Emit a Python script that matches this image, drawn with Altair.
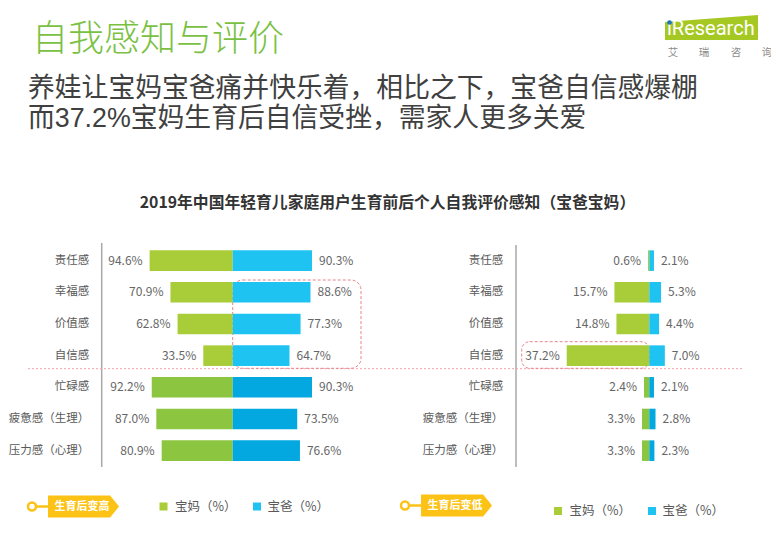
import altair as alt
import pandas as pd

# ---------------- data ----------------
categories = ["责任感", "幸福感", "价值感", "自信感", "忙碌感", "疲惫感（生理）", "压力感（心理）"]
kinds = ["正面", "正面", "正面", "正面", "负面", "负面", "负面"]
up_mom = [94.6, 70.9, 62.8, 33.5, 92.2, 87.0, 80.9]     # 生育后变高 宝妈
up_dad = [90.3, 88.6, 77.3, 64.7, 90.3, 73.5, 76.6]     # 生育后变高 宝爸
down_mom = [0.6, 15.7, 14.8, 37.2, 2.4, 3.3, 3.3]       # 生育后变低 宝妈
down_dad = [2.1, 5.3, 4.4, 7.0, 2.1, 2.8, 2.3]          # 生育后变低 宝爸

series = ["宝妈", "宝爸"]
title_text = "自我感知与评价"
subtitle_lines = ["养娃让宝妈宝爸痛并快乐着，相比之下，宝爸自信感爆棚",
                  "而37.2%宝妈生育后自信受挫，需家人更多关爱"]
chart_title = "2019年中国年轻育儿家庭用户生育前后个人自我评价感知（宝爸宝妈）"
panel_tags = ["生育后变高", "生育后变低"]
legend_labels = ["宝妈（%）", "宝爸（%）"]
logo_text = "iResearch"
logo_sub = ["艾", "瑞", "咨", "询"]

FONT = "Noto Sans CJK SC"
color_keys = ["宝妈正面", "宝妈负面", "宝爸正面", "宝爸负面"]
color_vals = ["#A8CD38", "#8CC540", "#1EC3F2", "#02A8DF"]
YELLOW = "#FDC216"


def panel_frame(mom, dad):
    rows = []
    for c, k, m, d in zip(categories, kinds, mom, dad):
        rows.append(dict(category=c, parent=series[0], value=m, signed=-m,
                         key=series[0] + k, label=f"{m:.1f}%"))
        rows.append(dict(category=c, parent=series[1], value=d, signed=d,
                         key=series[1] + k, label=f"{d:.1f}%"))
    return pd.DataFrame(rows)


yscale = alt.Scale(domain=categories, range=[236.8, 458.5],
                   paddingInner=0.35, paddingOuter=0.175)
cscale = alt.Scale(domain=color_keys, range=color_vals)


def panel(df, xdom, xrange, label_x):
    xs = alt.Scale(domain=xdom, range=xrange, nice=False, zero=False)
    base = alt.Chart(df).encode(y=alt.Y("category:N", scale=yscale, axis=None))
    bars = base.mark_bar().encode(
        x=alt.X("signed:Q", scale=xs, axis=None, stack=None),
        x2=alt.datum(0),
        color=alt.Color("key:N", scale=cscale, legend=None),
    )
    mom_txt = base.transform_filter(alt.datum.parent == series[0]).mark_text(
        align="right", dx=-7, baseline="middle", fontSize=12, color="#666666", font=FONT
    ).encode(x=alt.X("signed:Q", scale=xs, axis=None), text="label:N")
    dad_txt = base.transform_filter(alt.datum.parent == series[1]).mark_text(
        align="left", dx=7, baseline="middle", fontSize=12, color="#666666", font=FONT
    ).encode(x=alt.X("signed:Q", scale=xs, axis=None), text="label:N")
    cat_txt = base.transform_filter(alt.datum.parent == series[0]).mark_text(
        align="right", baseline="middle", fontSize=11.5, color="#595959", font=FONT
    ).encode(x=alt.value(label_x), text="category:N")
    return [bars, mom_txt, dad_txt, cat_txt]


one = pd.DataFrame({"k": [0]})


def txt(text, x, y, font=FONT, **kw):
    return alt.Chart(one).mark_text(text=text, font=font, baseline="middle", **kw).encode(
        x=alt.value(x), y=alt.value(y))


def rule(x, x2, y, y2, **kw):
    return alt.Chart(one).mark_rule(**kw).encode(
        x=alt.value(x), x2=alt.value(x2), y=alt.value(y), y2=alt.value(y2))


def box(x, x2, y, y2, **kw):
    return alt.Chart(one).mark_rect(**kw).encode(
        x=alt.value(x), x2=alt.value(x2), y=alt.value(y), y2=alt.value(y2))


def sym(x, y, **kw):
    return alt.Chart(one).mark_point(**kw).encode(x=alt.value(x), y=alt.value(y))


left = panel(panel_frame(up_mom, up_dad), [-100, 100], [136.9, 312.5], 81.3)
right = panel(panel_frame(down_mom, down_dad), [-40, 40], [552.5, 730.1], 495.3)

SUB_FONT = "Liberation Sans, Noto Sans CJK SC"
deco = [
    # headings
    txt(title_text, 24, 32, fontSize=36, color="#7AC143", align="left", fontWeight=300),
    txt(subtitle_lines[0], 20, 80.5, font=SUB_FONT, fontSize=26.8, color="#404040", align="left"),
    txt(subtitle_lines[1], 20, 110.5, font=SUB_FONT, fontSize=26.8, color="#404040", align="left"),
    txt(chart_title, 379.5, 195, fontSize=15.8, color="#333333", align="center", fontWeight="bold"),
    # logo
    sym(703.5, 19.5, shape="M -1 -0.118 L 1 -0.269 L 1 0.269 L -1 0.269 Z",
        size=93 ** 2, filled=True, color="#A6C823", opacity=1, strokeWidth=0),
    txt(logo_text, 659, 21, fontSize=20, color="white", align="left", font="Roboto"),
    sym(661.5, 14.5, shape="circle", size=22, filled=True, color="#1B75BB", opacity=1),
    # axis lines & separators
    rule(93.7, 93.7, 235, 459, color="#A8A8A8", strokeWidth=1.5),
    rule(508, 508, 237, 459, color="#A8A8A8", strokeWidth=1.5),
    rule(20, 734, 360.7, 360.7, color="#F2A2AA", strokeWidth=1, strokeDash=[2, 2]),
    box(224.7, 353, 272, 360.3, fillOpacity=0, stroke="#E8848C", strokeWidth=1,
        strokeDash=[3, 2], cornerRadius=10),
    box(513.7, 641.3, 333.7, 360.3, fillOpacity=0, stroke="#E8848C", strokeWidth=1,
        strokeDash=[3, 2], cornerRadius=8),
]
for ch, lx in zip(logo_sub, [665, 696, 728, 759]):
    deco.append(txt(ch, lx, 45, fontSize=10.5, color="#8C8C8C", align="center"))

# legends / tags
for cx, cy, tag, sq1, sq2, ly in [(24, 498.5, panel_tags[0], 155.5, 249, 498.5),
                                  (397, 497.5, panel_tags[1], 550, 644, 503)]:
    deco += [
        rule(cx + 4, cx + 16, cy, cy, color=YELLOW, strokeWidth=2.5),
        sym(cx, cy, shape="circle", size=64, filled=True, fill="white", stroke=YELLOW,
            strokeWidth=2.5, opacity=1),
        sym(cx + 51.5, cy, shape="M -1 -0.31 L 0.75 -0.31 L 1 0 L 0.75 0.31 L -1 0.31 Z",
            size=71 ** 2, filled=True, color=YELLOW, opacity=1, strokeWidth=0),
        txt(tag, cx + 50, cy, fontSize=11, color="white", align="center", fontWeight="bold"),
        sym(sq1, ly, shape="square", size=64, filled=True, color=color_vals[0], opacity=1),
        txt(legend_labels[0], sq1 + 11.5, ly, fontSize=12.5, color="#595959", align="left"),
        sym(sq2, ly, shape="square", size=64, filled=True, color=color_vals[2], opacity=1),
        txt(legend_labels[1], sq2 + 10.5, ly, fontSize=12.5, color="#595959", align="left"),
    ]

chart = alt.layer(*deco, *left, *right).resolve_scale(x="independent").properties(
    width=763, height=519,
    autosize=alt.AutoSizeParams(type="fit", contains="padding"),
    padding=0,
    background="white",
).configure_view(stroke=None)

chart.save("out.html", embed_options={"renderer": "svg", "actions": False})
